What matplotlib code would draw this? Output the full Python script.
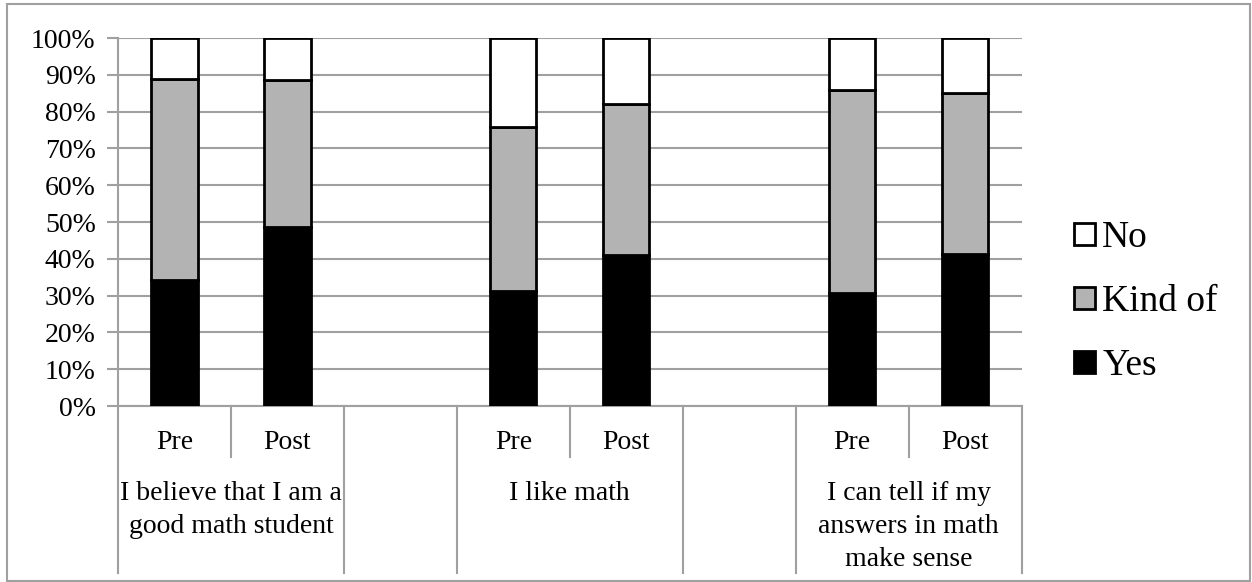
import numpy as np
import matplotlib
matplotlib.use("Agg")
import matplotlib.pyplot as plt
from matplotlib.patches import Rectangle

# Survey answers, percent of students
questions = ["I believe that I am a\ngood math student", "I like math",
             "I can tell if my\nanswers in math\nmake sense"]
phases = ["Pre", "Post"]
yes = [34.2, 48.7, 31.3, 41.1, 30.6, 41.2]
kind_of = [54.6, 39.9, 44.6, 40.9, 55.2, 43.8]
no = [11.2, 11.4, 24.1, 18.0, 14.2, 15.0]

plt.rcParams['font.family'] = ['Liberation Serif', 'DejaVu Serif']

fig = plt.figure(figsize=(12.52, 5.82), dpi=100)
ax = fig.add_axes([0.0942, 0.3024, 0.7218, 0.6323])

# slots: Pre, Post, gap, Pre, Post, gap, Pre, Post
pos = np.array([0, 1, 3, 4, 6, 7])
w = 0.41
yes = np.array(yes)
kind_of = np.array(kind_of)
no = np.array(no)

ax.bar(pos, yes, w, color='black', edgecolor='black', linewidth=2, label='Yes', zorder=3)
ax.bar(pos, kind_of, w, bottom=yes, color='#b3b3b3', edgecolor='black', linewidth=2,
       label='Kind of', zorder=3)
ax.bar(pos, no, w, bottom=yes + kind_of, color='white', edgecolor='black', linewidth=2,
       label='No', zorder=3)

ax.set_xlim(-0.5, 7.5)
ax.set_ylim(0, 100)
ax.set_yticks(range(0, 101, 10))
ax.set_yticklabels([f"{v}%" for v in range(0, 101, 10)], fontsize=20)
ax.tick_params(axis='y', length=8, width=1.5, color='#a0a0a0', pad=8)
ax.set_xticks([])
ax.grid(axis='y', color='#a0a0a0', linewidth=1.5, zorder=0)
for s in ['top', 'right']:
    ax.spines[s].set_visible(False)
for s in ['left', 'bottom']:
    ax.spines[s].set_color('#a0a0a0')
    ax.spines[s].set_linewidth(1.5)

# category separators below the axis
tr = ax.get_xaxis_transform()
long_sep = [-0.5, 1.5, 2.5, 4.5, 5.5, 7.5]
short_sep = [0.5, 3.5, 6.5]
for x in long_sep:
    ax.plot([x, x], [0, -0.454], transform=tr, color='#a0a0a0', lw=1.5, clip_on=False)
for x in short_sep:
    ax.plot([x, x], [0, -0.139], transform=tr, color='#a0a0a0', lw=1.5, clip_on=False)

for i, p in enumerate(pos):
    ax.text(p, -0.098, phases[i % 2], transform=tr, ha='center', va='center', fontsize=20)
for g, q in enumerate(questions):
    ax.text(3 * g + 0.5, -0.205, q, transform=tr, ha='center', va='top', fontsize=20,
            linespacing=1.4)

handles, labels = ax.get_legend_handles_labels()
leg = fig.legend(handles[::-1], labels[::-1], loc='center left',
                 bbox_to_anchor=(0.843, 0.481), frameon=False, fontsize=27,
                 handlelength=0.55, handleheight=0.55, handletextpad=0.2,
                 labelspacing=0.79, borderpad=0)

# outer chart frame
fig.patches.append(Rectangle((7 / 1252, 1 / 582), 1243 / 1252, 577 / 582,
                             transform=fig.transFigure, fill=False,
                             edgecolor='#a0a0a0', linewidth=1.5))

fig.savefig("out.png", dpi=100)
